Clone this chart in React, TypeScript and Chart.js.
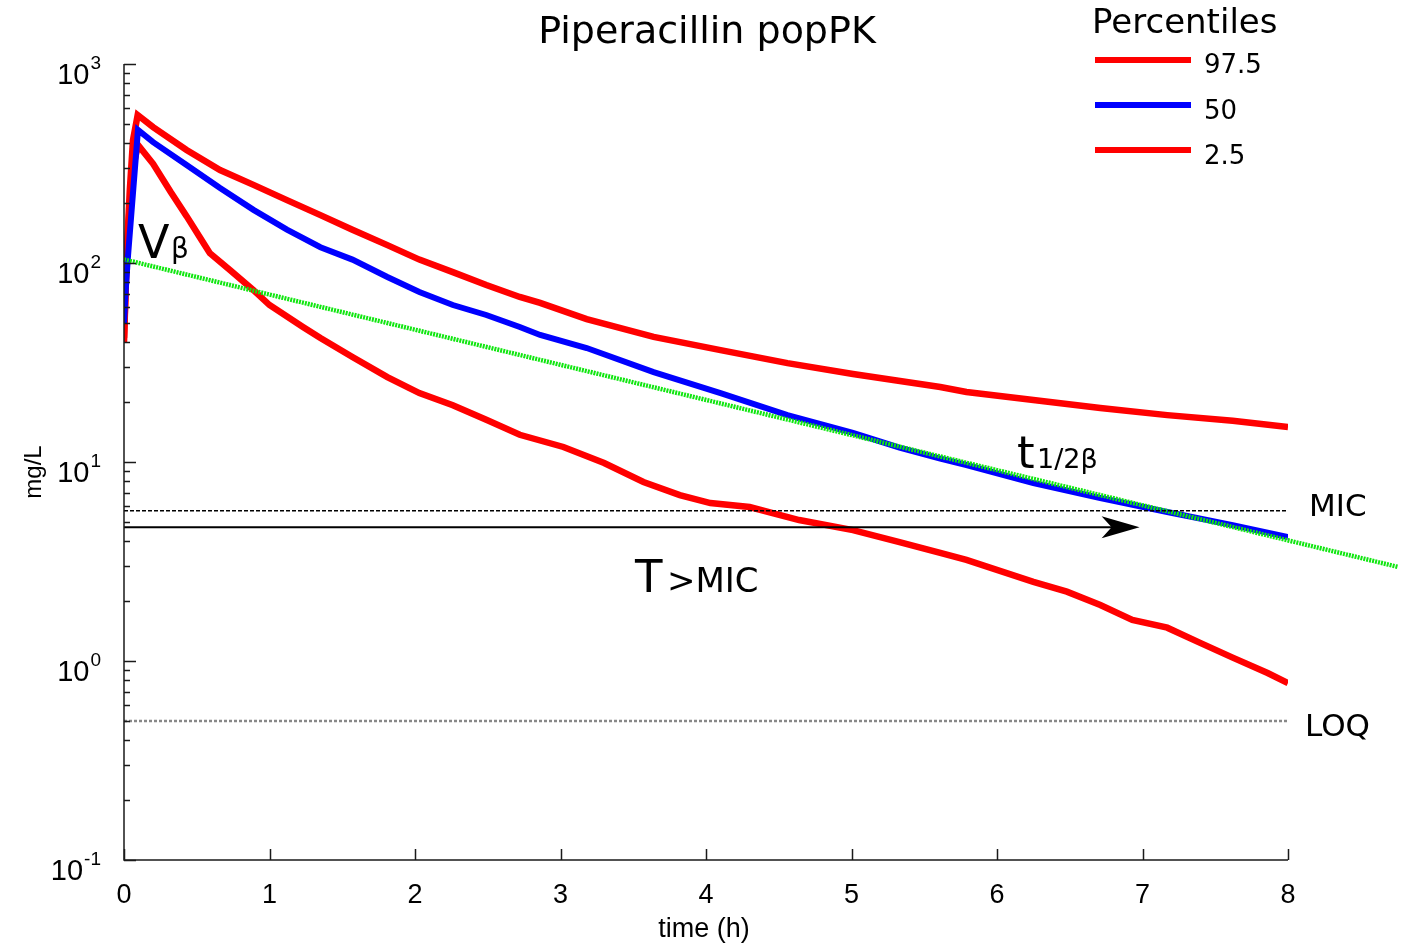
import React, { useEffect, useRef } from 'react';
import { Chart, registerables } from 'chart.js';

Chart.register(...registerables);

// ---- data ----
const upperTimes = [0, 0.018, 0.04, 0.062, 0.094, 0.2, 0.43, 0.66, 0.89, 1.12, 1.35, 1.57, 1.81, 2.03, 2.26, 2.49, 2.72, 2.86, 3.18, 3.64, 4.1, 4.56, 5.01, 5.61, 5.79, 6.25, 6.71, 7.17, 7.62, 8.0];
const upperValues = [42, 108, 233, 415, 554, 482, 370, 293, 247, 207, 174, 147, 123, 104, 90, 77.5, 67.5, 63, 52.3, 42.5, 36.5, 31.4, 27.7, 23.8, 22.5, 20.5, 18.7, 17.2, 16.1, 15.0];

const medianTimes = [0, 0.01, 0.027, 0.096, 0.2, 0.43, 0.66, 0.89, 1.12, 1.35, 1.57, 1.81, 2.03, 2.26, 2.49, 2.72, 2.86, 3.18, 3.64, 4.1, 4.56, 5.01, 5.33, 5.61, 5.79, 6.25, 6.71, 7.17, 7.62, 8.0];
const medianValues = [50, 70, 107, 466, 405, 311, 238, 185, 147, 120, 104, 85, 71.5, 61.5, 54.8, 47.7, 43.5, 37.4, 28.3, 22.2, 17.2, 14.0, 11.8, 10.4, 9.66, 7.84, 6.59, 5.61, 4.82, 4.2];

const lowerTimes = [0, 0.018, 0.04, 0.062, 0.096, 0.2, 0.32, 0.43, 0.52, 0.59, 0.73, 0.89, 1.0, 1.23, 1.35, 1.57, 1.81, 2.03, 2.26, 2.49, 2.72, 3.02, 3.3, 3.57, 3.82, 4.03, 4.3, 4.64, 5.01, 5.33, 5.61, 5.79, 6.25, 6.48, 6.71, 6.93, 7.17, 7.4, 7.62, 7.86, 8.0];
const lowerValues = [40, 105, 200, 300, 392, 315, 228, 172, 135, 112, 92, 73, 61.5, 47.7, 42, 33.7, 26.7, 22.2, 19.3, 16.3, 13.7, 11.9, 9.89, 7.93, 6.82, 6.22, 5.94, 5.11, 4.55, 3.96, 3.49, 3.22, 2.5, 2.23, 1.91, 1.61, 1.47, 1.23, 1.04, 0.87, 0.775];

const betaTimes = [0, 8.756];
const betaValues = [104.2, 2.97];

const micTimes = [0, 8];
const micLevel = 5.69;
const loqTimes = [0, 8];
const loqLevel = 0.5;
const arrowTimes = [0, 6.98];
const arrowLevel = 4.7;

const xTickValues = [0, 1, 2, 3, 4, 5, 6, 7, 8];
const yDecades = [-1, 0, 1, 2, 3];
const legendLabels = ['97.5', '50', '2.5'];
const legendColors = ['#ff0000', '#0000ff', '#ff0000'];

const TICK_FONT = '"Liberation Sans", Arial, sans-serif';
const ANN_FONT = '"DejaVu Sans", Verdana, sans-serif';

function pts(t: number[], v: number[]) {
  return t.map((x, i) => ({ x, y: v[i] }));
}

function drawText(ctx: CanvasRenderingContext2D, s: string, x: number, y: number, font: string, align: CanvasTextAlign = 'left') {
  ctx.font = font;
  ctx.textAlign = align;
  ctx.textBaseline = 'alphabetic';
  ctx.fillStyle = '#000';
  ctx.fillText(s, x, y);
}

const decorPlugin = {
  id: 'decor',
  afterDatasetsDraw(chart: any) {
    const { ctx, chartArea } = chart;
    const xs = chart.scales.x;
    const ys = chart.scales.y;
    const { left, right, top, bottom } = chartArea;
    ctx.save();

    // arrow (T > MIC)
    const ax0 = xs.getPixelForValue(arrowTimes[0]);
    const ax1 = xs.getPixelForValue(arrowTimes[1]);
    const ay = ys.getPixelForValue(arrowLevel);
    ctx.strokeStyle = '#000';
    ctx.lineWidth = 2;
    ctx.beginPath();
    ctx.moveTo(ax0, ay);
    ctx.lineTo(ax1 - 26, ay);
    ctx.stroke();
    ctx.fillStyle = '#000';
    ctx.beginPath();
    ctx.moveTo(ax1, ay);
    ctx.lineTo(ax1 - 38, ay - 11);
    ctx.lineTo(ax1 - 28, ay);
    ctx.lineTo(ax1 - 38, ay + 11);
    ctx.closePath();
    ctx.fill();

    // axes
    ctx.strokeStyle = '#1a1a1a';
    ctx.lineWidth = 1.5;
    ctx.beginPath();
    ctx.moveTo(left, top);
    ctx.lineTo(left, bottom);
    ctx.lineTo(right, bottom);
    ctx.stroke();

    // y ticks (inward)
    ctx.beginPath();
    for (let d = -1; d <= 2; d++) {
      for (let k = 1; k <= 9; k++) {
        const v = k * Math.pow(10, d);
        const py = Math.round(ys.getPixelForValue(v)) + 0.5;
        const len = k === 1 ? 12 : 6;
        ctx.moveTo(left, py);
        ctx.lineTo(left + len, py);
      }
    }
    const pTop = Math.round(ys.getPixelForValue(1000)) + 0.5;
    ctx.moveTo(left, pTop);
    ctx.lineTo(left + 12, pTop);
    // x ticks (inward)
    xTickValues.forEach((t) => {
      const px = Math.round(xs.getPixelForValue(t)) + 0.5;
      ctx.moveTo(px, bottom);
      ctx.lineTo(px, bottom - 11);
    });
    ctx.stroke();
    ctx.restore();
  },
  afterDraw(chart: any) {
    const { ctx } = chart;
    const xs = chart.scales.x;
    const ys = chart.scales.y;
    ctx.save();

    // y tick labels 10^n
    yDecades.forEach((d) => {
      const py = ys.getPixelForValue(Math.pow(10, d));
      const sup = String(d);
      ctx.font = `19px ${TICK_FONT}`;
      const supW = ctx.measureText(sup).width;
      const rightEdge = 101;
      drawText(ctx, '10', rightEdge - supW - 1, py + 20, `29px ${TICK_FONT}`, 'right');
      drawText(ctx, sup, rightEdge - supW, py + 5, `19px ${TICK_FONT}`, 'left');
    });

    // x tick labels
    xTickValues.forEach((t) => {
      drawText(ctx, String(t), xs.getPixelForValue(t), 903, `27px ${TICK_FONT}`, 'center');
    });

    // axis titles
    drawText(ctx, 'time (h)', 704, 937, `27px ${TICK_FONT}`, 'center');
    ctx.save();
    ctx.translate(41, 472);
    ctx.rotate(-Math.PI / 2);
    drawText(ctx, 'mg/L', 0, 0, `24px ${TICK_FONT}`, 'center');
    ctx.restore();

    // title
    drawText(ctx, 'Piperacillin popPK', 707, 43, `38px ${ANN_FONT}`, 'center');

    // legend
    drawText(ctx, 'Percentiles', 1092, 33, `34px ${ANN_FONT}`, 'left');
    const legY = [60, 105, 150];
    const legBase = [73, 119, 164];
    legendLabels.forEach((lab, i) => {
      ctx.strokeStyle = legendColors[i];
      ctx.lineWidth = 6;
      ctx.beginPath();
      ctx.moveTo(1095, legY[i]);
      ctx.lineTo(1191, legY[i]);
      ctx.stroke();
      drawText(ctx, lab, 1204, legBase[i], `26px ${ANN_FONT}`, 'left');
    });

    // reference line labels
    drawText(ctx, 'MIC', 1309, 516, `31px ${ANN_FONT}`, 'left');
    drawText(ctx, 'LOQ', 1305, 736, `31px ${ANN_FONT}`, 'left');

    // annotations
    drawText(ctx, 'V', 138, 258, `46px ${ANN_FONT}`, 'left');
    drawText(ctx, 'β', 171, 258, `28px ${ANN_FONT}`, 'left');

    drawText(ctx, 't', 1017, 468, `45px ${ANN_FONT}`, 'left');
    drawText(ctx, '1/2β', 1037, 468, `27px ${ANN_FONT}`, 'left');

    drawText(ctx, 'T', 635, 592, `45px ${ANN_FONT}`, 'left');
    drawText(ctx, '>MIC', 667, 592, `34px ${ANN_FONT}`, 'left');

    ctx.restore();
  },
};

export default function App() {
  const canvasRef = useRef<HTMLCanvasElement | null>(null);

  useEffect(() => {
    const canvas = canvasRef.current;
    if (!canvas) return;
    const chart = new Chart(canvas, {
      type: 'line',
      data: {
        datasets: [
          {
            label: '97.5',
            data: pts(upperTimes, upperValues),
            borderColor: '#ff0000',
            borderWidth: 6.5,
            pointRadius: 0,
            tension: 0,
            order: 6,
          },
          {
            label: '2.5',
            data: pts(lowerTimes, lowerValues),
            borderColor: '#ff0000',
            borderWidth: 6.5,
            pointRadius: 0,
            tension: 0,
            order: 5,
          },
          {
            label: '50',
            data: pts(medianTimes, medianValues),
            borderColor: '#0000ff',
            borderWidth: 6,
            pointRadius: 0,
            tension: 0,
            order: 4,
          },
          {
            label: 'beta',
            data: pts(betaTimes, betaValues),
            borderColor: '#11e611',
            borderWidth: 4.5,
            borderDash: [2, 1],
            pointRadius: 0,
            tension: 0,
            clip: false as any,
            order: 3,
          },
          {
            label: 'MIC',
            data: micTimes.map((t) => ({ x: t, y: micLevel })),
            borderColor: '#000000',
            borderWidth: 1.5,
            borderDash: [4, 2],
            pointRadius: 0,
            order: 2,
          },
          {
            label: 'LOQ',
            data: loqTimes.map((t) => ({ x: t, y: loqLevel })),
            borderColor: '#888888',
            borderWidth: 2.5,
            borderDash: [3, 2],
            pointRadius: 0,
            order: 1,
          },
        ],
      },
      options: {
        animation: false,
        responsive: false,
        devicePixelRatio: 1,
        layout: { padding: { left: 124, right: 126, top: 64, bottom: 86 } },
        scales: {
          x: { type: 'linear', min: 0, max: 8, display: false },
          y: { type: 'logarithmic', min: 0.1, max: 1000, display: false },
        },
        plugins: {
          legend: { display: false },
          tooltip: { enabled: false },
          title: { display: false },
        },
        events: [],
      },
      plugins: [decorPlugin],
    });
    return () => chart.destroy();
  }, []);

  return (
    <div style={{ position: 'fixed', left: 0, top: 0, width: 1414, height: 946, background: '#fff' }}>
      <canvas ref={canvasRef} width={1414} height={946} style={{ width: 1414, height: 946, display: 'block' }} />
    </div>
  );
}
